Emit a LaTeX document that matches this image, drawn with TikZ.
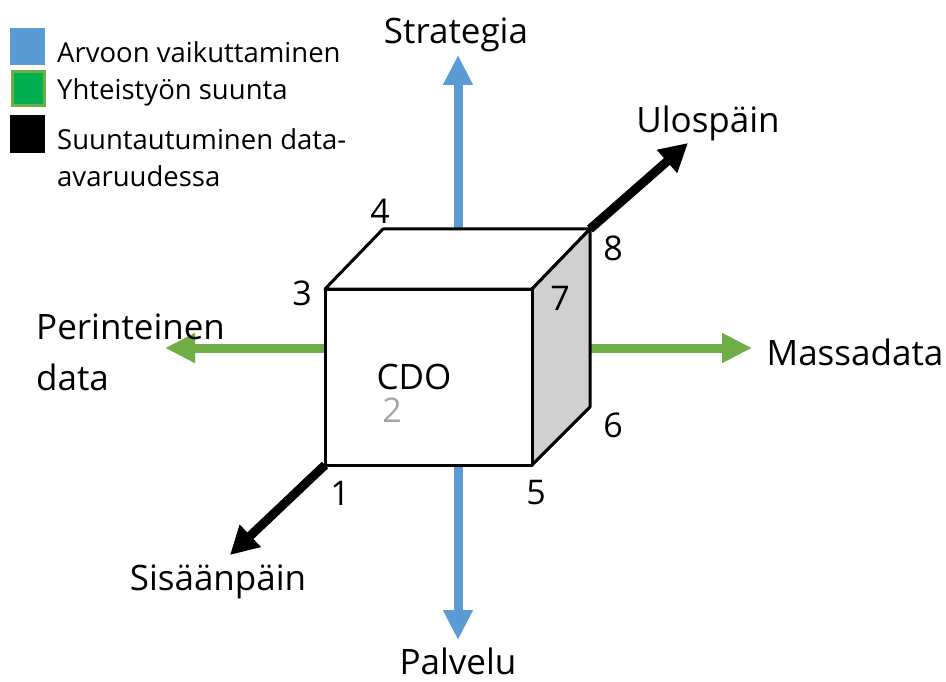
\documentclass[tikz,border=0pt]{standalone}
\usepackage{fontspec}
\setmainfont{Open Sans}
\usetikzlibrary{arrows.meta}

\definecolor{valueblue}{HTML}{5B9BD5}
\definecolor{teamgreen}{HTML}{70AD47}
\definecolor{keygreen}{HTML}{00B050}
\definecolor{sidegray}{HTML}{D0D0D0}

\tikzset{
  dirarrow/.style={line width=9pt, -{Triangle[length=30pt,width=28pt]}},
  dataarrow/.style={line width=9pt, -{Triangle[length=28pt,width=29pt]}},
  face/.style={draw, line width=3pt, line join=round},
  lbl/.style={font=\fontsize{35}{51}\selectfont, inner sep=0pt},
  num/.style={font=\fontsize{34}{40}\selectfont, inner sep=0pt},
  keytext/.style={font=\fontsize{27.5}{37}\selectfont, inner sep=0pt, anchor=west, align=left},
}

\begin{document}
\begin{tikzpicture}[x=1pt,y=-1pt]
 \useasboundingbox (0,0) rectangle (946,682);

 % cube corners, 1-4 left, 5-8 right
 \coordinate (c1) at (325,465);
 \coordinate (c2) at (383,407);
 \coordinate (c3) at (325,289);
 \coordinate (c4) at (383,229);
 \coordinate (c5) at (532,465);
 \coordinate (c6) at (590,407);
 \coordinate (c7) at (532,289);
 \coordinate (c8) at (590,229);

 % arrow tips
 \coordinate (up)    at (458,55);
 \coordinate (down)  at (458,640);
 \coordinate (left)  at (165,348);
 \coordinate (right) at (752,348);
 \coordinate (out)   at (688,143);
 \coordinate (in)    at (230,555);

 \draw[dirarrow, valueblue] (458,229) -- (up);
 \draw[dirarrow, valueblue] (458,465) -- (down);
 \draw[dirarrow, teamgreen] (325,348) -- (left);
 \draw[dirarrow, teamgreen] (590,348) -- (right);

 % the cube
 \draw[face, fill=white] (c3) -- (c4) -- (c8) -- (c7) -- cycle;
 \draw[face, fill=sidegray] (c7) -- (c8) -- (c6) -- (c5) -- cycle;
 \draw[face, fill=white] (c1) rectangle (c7);

 \draw[dataarrow] (c8) -- (out);
 \draw[dataarrow] (c1) -- (in);

 \node[num] (n1) at (340,493) {1};
 \node[num, gray!70] (n2) at (392,410) {2};
 \node[num] (n3) at (302,293) {3};
 \node[num] (n4) at (380,211) {4};
 \node[num] (n5) at (536,493) {5};
 \node[num] (n6) at (613,425) {6};
 \node[num] (n7) at (560,298) {7};
 \node[num] (n8) at (613,248) {8};
 \node[lbl] (cdo) at (414,377) {CDO};

 \node[lbl] (strategia) at (456,35) {Strategia};
 \node[lbl] (palvelu) at (458,661) {Palvelu};
 \node[lbl] (ulos) at (708,123) {Ulospäin};
 \node[lbl] (massa) at (855,352) {Massadata};
 \node[lbl, anchor=west, align=left] (perint) at (36,352) {Perinteinen\\data};
 \node[lbl] (sisaan) at (218,582) {Sisäänpäin};

 % legend
 \fill[valueblue] (10,28) rectangle (45,65);
 \draw[teamgreen, line width=3pt, fill=keygreen] (12,72) rectangle (44,106);
 \fill[black] (10,115) rectangle (45,153);
 \node[keytext] (k1) at (57,52) {Arvoon vaikuttaminen};
 \node[keytext] (k2) at (57,92) {Yhteistyön suunta};
 \node[keytext] (k3) at (57,158) {Suuntautuminen data-\\avaruudessa};
\end{tikzpicture}
\end{document}
